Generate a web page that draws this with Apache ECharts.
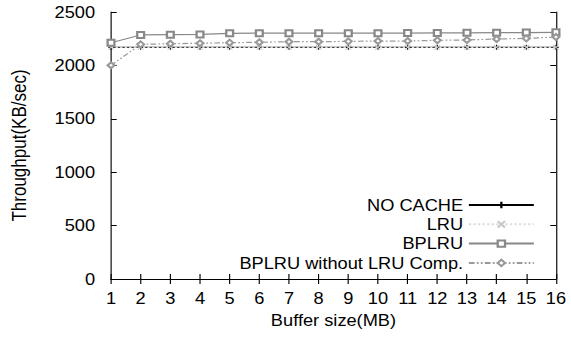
<!DOCTYPE html>
<html>
<head>
<meta charset="utf-8">
<script src="https://cdn.jsdelivr.net/npm/echarts@6/dist/echarts.min.js"></script>
<style>
  html, body { margin: 0; padding: 0; background: #fff; overflow: hidden; }
  /* the figure is drawn slightly wide: lay it out at 501px and stretch to 571px */
  #chart { width: 501px; height: 341px; transform: scaleX(1.1397); transform-origin: 0 0; }
</style>
</head>
<body>
<div id="chart"></div>
<script>
// Buffer sizes (MB) on the x axis
const bufferSizes = ['1','2','3','4','5','6','7','8','9','10','11','12','13','14','15','16'];

// Throughput (KB/sec) for each policy
const noCache = [2170,2170,2170,2170,2170,2170,2170,2170,2170,2170,2170,2170,2170,2170,2170,2170];
const lru     = [2170,2170,2170,2170,2170,2170,2170,2170,2170,2170,2170,2170,2170,2170,2170,2170];
const bplru   = [2212,2285,2288,2290,2300,2302,2302,2302,2302,2302,2303,2304,2305,2306,2307,2310];
const bplruNoComp = [2001,2197,2203,2207,2213,2216,2222,2222,2225,2228,2228,2235,2238,2247,2253,2266];

const yTicks = [0, 500, 1000, 1500, 2000, 2500];

const FONT = 'Liberation Sans, Arial, Helvetica, sans-serif';
const PLUS = 'path://M0,5L10,5M5,0L5,10';
const CROSS = 'path://M0,0L10,10M10,0L0,10';

const chart = echarts.init(document.getElementById('chart'), null, { renderer: 'svg' });

const axisLine = { show: true, lineStyle: { color: '#000', width: 1 } };
const tick = { show: true, inside: true, length: 5, lineStyle: { color: '#000' } };

chart.setOption({
  animation: false,
  backgroundColor: '#fff',
  textStyle: { fontFamily: FONT },
  grid: { left: 97.4, right: 13.2, top: 12, bottom: 62, containLabel: false },
  legend: {
    orient: 'vertical',
    right: 31.6,
    top: 197,
    align: 'right',
    itemWidth: 57,
    itemHeight: 8,
    itemGap: 3.3,
    padding: 0,
    textStyle: { fontFamily: FONT, fontSize: 16, color: '#000', lineHeight: 16 },
    data: ['NO CACHE', 'LRU', 'BPLRU', 'BPLRU without LRU Comp.']
  },
  xAxis: [{
    type: 'category',
    data: bufferSizes,
    boundaryGap: false,
    name: 'Buffer size(MB)',
    nameLocation: 'middle',
    nameGap: 33,
    nameTextStyle: { fontFamily: FONT, fontSize: 16, color: '#000' },
    axisLine: axisLine,
    axisTick: Object.assign({ alignWithLabel: true }, tick),
    axisLabel: { fontFamily: FONT, fontSize: 16, color: '#000', margin: 11, interval: 0 },
    splitLine: { show: false }
  }, {
    type: 'category',
    data: bufferSizes,
    boundaryGap: false,
    position: 'top',
    axisLine: axisLine,
    axisTick: tick,
    axisLabel: { show: false },
    splitLine: { show: false }
  }],
  yAxis: [{
    type: 'value',
    min: yTicks[0],
    max: yTicks[yTicks.length - 1],
    interval: 500,
    name: 'Throughput(KB/sec)',
    nameLocation: 'middle',
    nameGap: 72,
    nameTextStyle: { fontFamily: FONT, fontSize: 17, color: '#000' },
    axisLine: axisLine,
    axisTick: tick,
    axisLabel: { fontFamily: FONT, fontSize: 16, color: '#000', margin: 14, formatter: v => String(v) },
    splitLine: { show: false }
  }, {
    type: 'value',
    min: yTicks[0],
    max: yTicks[yTicks.length - 1],
    interval: 500,
    position: 'right',
    axisLine: axisLine,
    axisTick: tick,
    axisLabel: { show: false },
    splitLine: { show: false }
  }],
  series: [{
    name: 'NO CACHE',
    type: 'line',
    data: noCache,
    symbol: PLUS,
    symbolSize: 5,
    showAllSymbol: true,
    lineStyle: { color: '#000', width: 1.2, type: 'solid' },
    itemStyle: { color: '#000', borderColor: '#000', borderWidth: 1 },
    z: 2
  }, {
    name: 'LRU',
    type: 'line',
    data: lru,
    symbol: CROSS,
    symbolSize: 5,
    showAllSymbol: true,
    lineStyle: { color: '#dcdcdc', width: 1.4, type: [2, 2] },
    itemStyle: { color: '#c8c8c8', borderColor: '#c8c8c8', borderWidth: 1 },
    z: 3
  }, {
    name: 'BPLRU',
    type: 'line',
    data: bplru,
    symbol: 'emptyRect',
    symbolSize: 6,
    showAllSymbol: true,
    lineStyle: { color: '#888888', width: 1.2, type: 'solid' },
    itemStyle: { color: '#888888', borderColor: '#888888', borderWidth: 1.2 },
    z: 4
  }, {
    name: 'BPLRU without LRU Comp.',
    type: 'line',
    data: bplruNoComp,
    symbol: 'emptyDiamond',
    symbolSize: 6,
    showAllSymbol: true,
    lineStyle: { color: '#999999', width: 1.2, type: [5, 2, 1.5, 2, 1.5, 2] },
    itemStyle: { color: '#999999', borderColor: '#999999', borderWidth: 1.2 },
    z: 4
  }]
});
</script>
</body>
</html>
